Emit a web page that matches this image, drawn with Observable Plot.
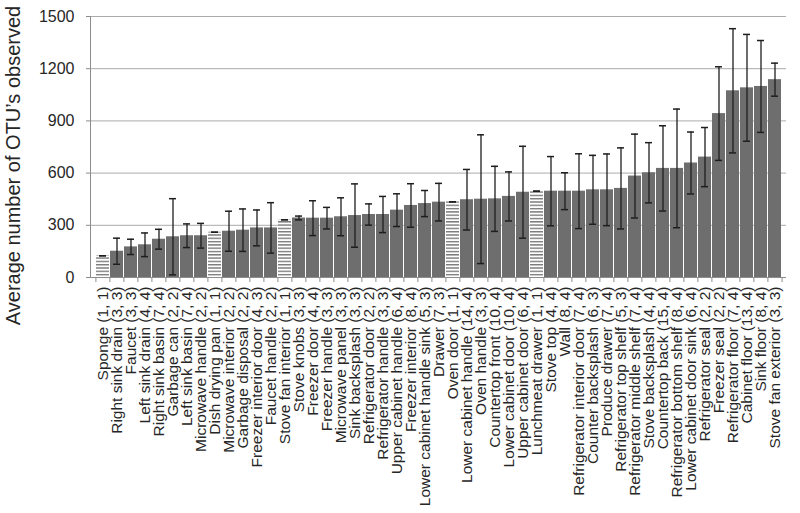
<!DOCTYPE html>
<html>
<head>
<meta charset="utf-8">
<script src="https://cdn.jsdelivr.net/npm/d3@7"></script>
<script src="https://cdn.jsdelivr.net/npm/@observablehq/plot@0.6"></script>
<style>
  html, body { margin: 0; padding: 0; background: #fff; }
  #chart { width: 800px; height: 513px; }
</style>
</head>
<body>
<div id="chart"></div>
<script>
const sites = [
  "Sponge", "Right sink drain", "Faucet", "Left sink drain", "Right sink basin",
  "Garbage can", "Left sink basin", "Microwave handle", "Dish drying pan", "Microwave interior",
  "Garbage disposal", "Freezer interior door", "Faucet handle", "Stove fan interior", "Stove knobs",
  "Freezer door", "Freezer handle", "Microwave panel", "Sink backsplash", "Refrigerator door",
  "Refrigerator handle", "Upper cabinet handle", "Freezer interior", "Lower cabinet handle sink", "Drawer",
  "Oven door", "Lower cabinet handle", "Oven handle", "Countertop front", "Lower cabinet door",
  "Upper cabinet door", "Lunchmeat drawer", "Stove top", "Wall", "Refrigerator interior door",
  "Counter backsplash", "Produce drawer", "Refrigerator top shelf", "Refrigerator middle shelf", "Stove backsplash",
  "Countertop back", "Refrigerator bottom shelf", "Lower cabinet door sink", "Refrigerator seal", "Freezer seal",
  "Refrigerator floor", "Cabinet floor", "Sink floor", "Stove fan exterior"
];
const nSamples = [
  1, 3, 3, 4, 7, 2, 7, 2, 1, 2,
  2, 4, 2, 1, 3, 4, 3, 3, 3, 2,
  3, 6, 8, 5, 7, 1, 14, 3, 10, 10,
  6, 1, 4, 8, 7, 6, 7, 5, 7, 4,
  15, 8, 6, 2, 2, 7, 13, 8, 3
];
const nKitchens = [
  1, 3, 3, 4, 4, 2, 4, 2, 1, 2,
  2, 3, 2, 1, 3, 4, 3, 3, 3, 2,
  3, 4, 4, 3, 3, 1, 4, 3, 4, 4,
  4, 1, 4, 4, 4, 3, 4, 3, 4, 4,
  4, 4, 4, 2, 2, 4, 4, 4, 3
];
const means = [
  125, 151, 176, 188, 220, 234, 240, 240, 260, 266,
  272, 285, 285, 332, 342, 341, 341, 349, 356, 362,
  362, 387, 414, 425, 433, 435, 447, 450, 452, 466,
  490, 496, 496, 496, 496, 504, 504, 512, 583, 602,
  627, 627, 658, 692, 942, 1073, 1090, 1098, 1137
];
const sds = [
  0, 75, 44, 68, 57, 219, 68, 71, 0, 115,
  122, 103, 145, 0, 11, 100, 62, 109, 182, 61,
  104, 94, 125, 75, 108, 0, 174, 370, 187, 141,
  264, 0, 199, 106, 215, 198, 206, 233, 241, 173,
  245, 341, 178, 170, 269, 357, 307, 264, 95
];
const yTicks = [0, 300, 600, 900, 1200, 1500];
const yLabel = "Average number of OTU\u2019s observed";

const data = sites.map((s, i) => ({
  label: `${s} (${nSamples[i]}, ${nKitchens[i]})`,
  mean: means[i],
  lo: means[i] - sds[i],
  hi: means[i] + sds[i],
  single: nSamples[i] === 1
}));
const labels = data.map(d => d.label);

const W = 800, H = 513, mL = 90, mR = 14, mT = 16, mB = 236;
const step = (W - mL - mR) / labels.length;
const axisGray = "#8c8c8c";
const errColor = "#1e1e1e";

const chart = Plot.plot({
  width: W,
  height: H,
  marginLeft: mL,
  marginRight: mR,
  marginTop: mT,
  marginBottom: mB,
  style: { fontFamily: "'Liberation Sans', Arial, sans-serif", color: "#262626", background: "#fff" },
  x: { domain: labels, padding: 0.1, label: null },
  y: { domain: [0, 1500], label: null },
  marks: [
    Plot.gridY(yTicks.filter(t => t > 0), { stroke: "#ababab", strokeOpacity: 1 }),
    Plot.barY(data.filter(d => !d.single), { x: "label", y: "mean", fill: "#6e6e6e" }),
    Plot.barY(data.filter(d => d.single), { x: "label", y: "mean", fill: "url(#stripes)" }),
    Plot.ruleX(data, { x: "label", y1: "lo", y2: "hi", stroke: errColor, strokeWidth: 1.3 }),
    Plot.tickY(data, { x: "label", y: "hi", insetLeft: 3, insetRight: 3, stroke: errColor, strokeWidth: 1.5 }),
    Plot.tickY(data, { x: "label", y: "lo", insetLeft: 3, insetRight: 3, stroke: errColor, strokeWidth: 1.5 }),
    Plot.ruleY([0], { stroke: axisGray }),
    Plot.frame({ anchor: "left", stroke: axisGray }),
    Plot.axisY({ ticks: yTicks, tickFormat: d3.format("d"), tickSize: 4, tickPadding: 12, fontSize: 16, label: null, stroke: axisGray }),
    Plot.axisX({ tickSize: 0, tickRotate: -90, tickPadding: 9, fontSize: 15.5, label: null }),
    Plot.axisX({ tickSize: 5, tickFormat: () => "", dx: -step / 2, stroke: axisGray, label: null }),
    Plot.axisX({ ticks: [labels[labels.length - 1]], tickSize: 5, tickFormat: () => "", dx: step / 2, stroke: axisGray, label: null })
  ]
});

d3.select(chart).insert("defs", ":first-child").html(
  `<pattern id="stripes" patternUnits="userSpaceOnUse" width="8" height="3.3">
     <rect width="8" height="3.3" fill="#ffffff"></rect>
     <rect y="0" width="8" height="1.4" fill="#7a7a7a"></rect>
   </pattern>`
);

// y-axis title, placed with the same frame geometry as the plot
const yMid = (mT + (H - mB)) / 2 + 19;
d3.select(chart).append("text")
  .attr("transform", `translate(${mL - 77},${yMid}) rotate(-90)`)
  .attr("text-anchor", "middle")
  .attr("dy", "0.35em")
  .attr("font-size", 20)
  .attr("fill", "#262626")
  .text(yLabel);

document.getElementById("chart").appendChild(chart);
</script>
</body>
</html>
